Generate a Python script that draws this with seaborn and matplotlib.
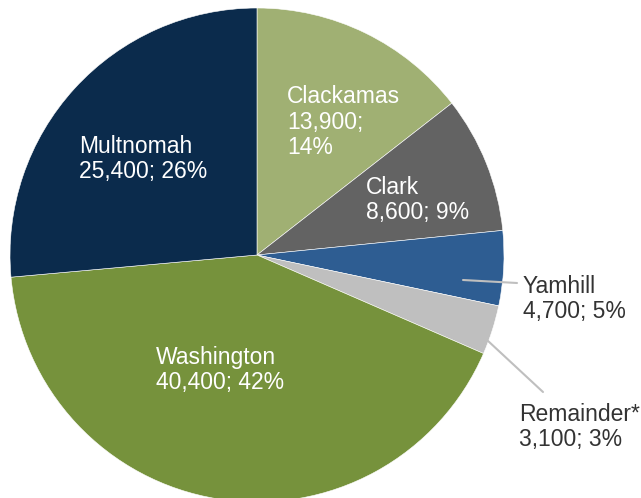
import matplotlib.pyplot as plt
import seaborn as sns

sns.set_theme(style="white")
plt.rcParams['font.family'] = ['Liberation Sans', 'DejaVu Sans']

# data
counties = ['Clackamas', 'Clark', 'Yamhill', 'Remainder*', 'Washington', 'Multnomah']
workers = [13900, 8600, 4700, 3100, 40400, 25400]
pct_labels = ['14%', '9%', '5%', '3%', '42%', '26%']
colors = ['#a0b073', '#636363', '#2e5d92', '#bfbfbf', '#76923c', '#0b2b4c']

W, H = 641, 498
fig = plt.figure(figsize=(W / 100, H / 100), dpi=100)
cx, cy, r = 257, 255, 247
ax = fig.add_axes([(cx - r) / W, (H - cy - r) / H, 2 * r / W, 2 * r / H])
ax.pie(workers, colors=colors, startangle=90, counterclock=False,
       radius=1, wedgeprops=dict(edgecolor='white', linewidth=0.4))
ax.set_xlim(-1, 1)
ax.set_ylim(-1, 1)
ax.set_aspect('equal')
ax.axis('off')


def px(x, y):
    return (x - cx) / r, (cy - y) / r


def fmt(i, sep='; '):
    return f"{counties[i]}\n{workers[i]:,}{sep}{pct_labels[i]}"


# label positions, pixel coords of left edge / vertical center
lab = [
    (287, 122, "Clackamas\n13,900;\n14%", 'white'),
    (366, 200, fmt(1), 'white'),
    (79, 159, fmt(5), 'white'),
    (156, 370, fmt(4), 'white'),
    (523, 299, fmt(2), '#333333'),
    (519, 427, fmt(3), '#333333'),
]
for x, y, t, c in lab:
    tx, ty = px(x, y)
    ax.text(tx, ty, t, ha='left', va='center', fontsize=16.5, color=c,
            linespacing=1.15, clip_on=False)

# leader lines
for (x0, y0), (x1, y1) in [((463, 280), (517, 283)), ((487, 340), (543, 392))]:
    a = px(x0, y0)
    b = px(x1, y1)
    ax.plot([a[0], b[0]], [a[1], b[1]], color='#bfbfbf', lw=1.5, clip_on=False)

fig.savefig('out.png', dpi=100)
